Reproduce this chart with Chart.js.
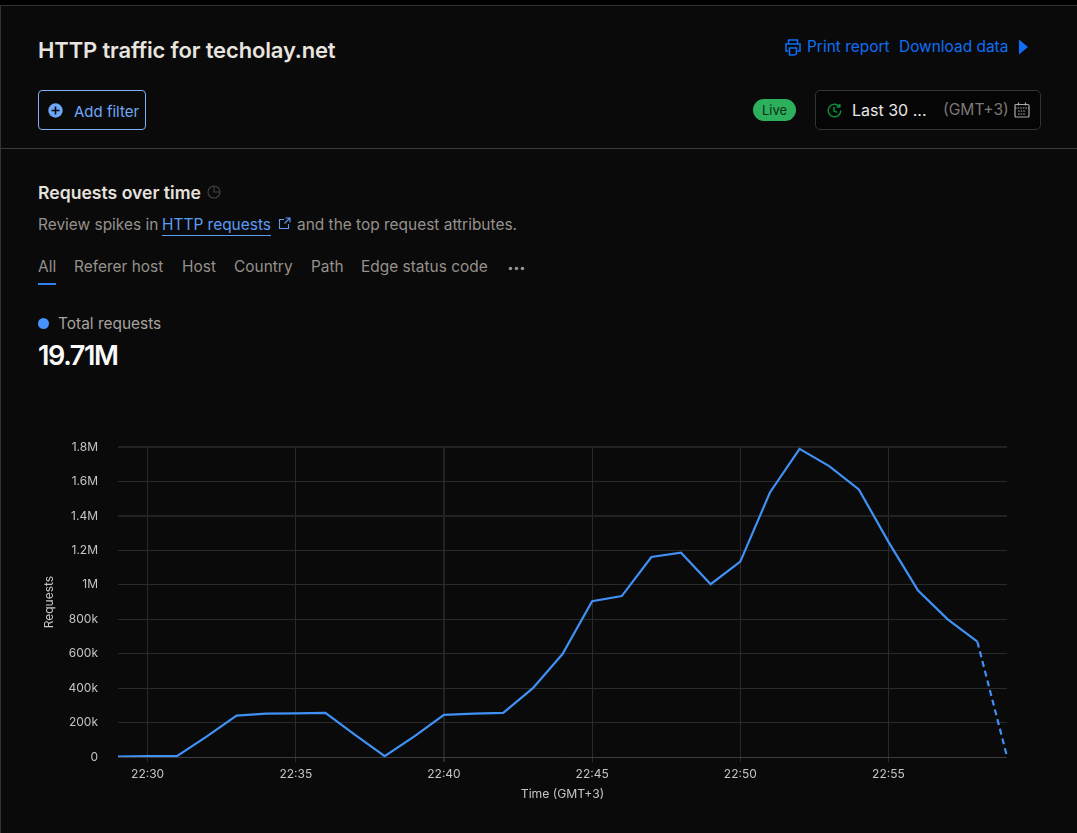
<!DOCTYPE html>
<html>
<head>
<meta charset="utf-8">
<title>HTTP traffic</title>
<script src="https://cdn.jsdelivr.net/npm/chart.js@4"></script>
<style>
  html, body { margin: 0; padding: 0; width: 1077px; height: 833px; overflow: hidden; background: #000; font-family: Inter, "Noto Sans", sans-serif; }
  #page { position: absolute; left: 0; top: 5px; width: 1077px; height: 828px; background: #0a0a0a; border-top: 1px solid #333; border-left: 1px solid #333; box-sizing: border-box; }
  .abs { position: absolute; white-space: nowrap; line-height: 1; }
  .t { font-size: 15.45px; color: #96918c; }
  .link { font-size: 15.45px; color: #0f6ef5; }
  svg { position: absolute; }
  #chartBox { position: absolute; left: 30px; top: 420px; width: 980px; height: 390px; }
</style>
</head>
<body>
<div id="page"></div>
<hr style="position:absolute;left:1px;top:148px;width:1076px;margin:0;border:0;border-top:1px solid #3a3a3a">

<div class="abs" style="left:38px;top:39px;font-size:22px;font-weight:600;letter-spacing:-0.15px;color:#e8e4df">HTTP traffic for techolay.net</div>

<svg style="left:785px;top:39px" width="16" height="17" viewBox="0 0 16 17" fill="none" stroke="#0f6ef5" stroke-width="1.5">
  <path d="M3.5 5V1h9v4M3.5 12H1V5h14v7h-2.5"/><path d="M4.5 9h7v5.5l-2 1.5h-5z"/>
</svg>
<div class="abs link" style="left:807px;top:39px">Print report</div>
<div class="abs link" style="left:899px;top:39px">Download data</div>
<svg style="left:1018px;top:39px" width="11" height="16" viewBox="0 0 11 16"><path d="M1 0.5L10 8L1 15.5Z" fill="#0f6ef5"/></svg>

<div style="position:absolute;left:38px;top:90px;width:106px;height:38px;border:1px solid #7db0f5;border-radius:4px"></div>
<svg style="left:48px;top:103px" width="15" height="15" viewBox="0 0 15 15">
  <circle cx="7.5" cy="7.5" r="7.2" fill="#6ea8fa"/><path d="M7.5 3.5v8M3.5 7.5h8" stroke="#0a0a0a" stroke-width="1.6"/>
</svg>
<div class="abs" style="left:74px;top:104px;font-size:15px;color:#6ea8fa">Add filter</div>

<div style="position:absolute;left:753px;top:99px;width:43px;height:22px;border-radius:11px;background:#2cb05c"></div>
<div class="abs" style="left:762px;top:104px;font-size:13px;color:#0c2e18">Live</div>
<div style="position:absolute;left:815px;top:90px;width:224px;height:38px;border:1px solid #333;border-radius:5px;background:#050505"></div>
<svg style="left:826px;top:102px" width="17" height="17" viewBox="0 0 17 17" fill="none" stroke="#0f8a3a" stroke-width="1.5">
  <path d="M14.8 8.5A6.3 6.3 0 1 1 13.2 4.3M8 5v4l3 1.2M13.8 2v3h-3"/>
</svg>
<div class="abs" style="left:852px;top:102px;font-size:16px;color:#e8e8e8">Last 30 ...</div>
<div class="abs" style="left:943px;top:102px;font-size:15.6px;color:#7d7874">(GMT+3)</div>
<svg style="left:1014px;top:102px" width="16" height="16" viewBox="0 0 16 16" fill="none" stroke="#a8a8a8" stroke-width="1.2">
  <rect x="1" y="2.5" width="14" height="12.5" rx="1"/><path d="M1 6h14M4.5 0.5v3M11.5 0.5v3M4 9h8M4 12h8" stroke-dasharray="1.6 1"/>
</svg>

<div class="abs" style="left:38px;top:184px;font-size:17.6px;font-weight:600;color:#e6e2de">Requests over time</div>
<svg style="left:207px;top:185px" width="14" height="14" viewBox="0 0 14 14" fill="none" stroke="#444" stroke-width="1.1">
  <circle cx="7" cy="7" r="6"/><path d="M7 1v6h6"/>
</svg>
<div class="abs t" style="left:38px;top:217px">Review spikes in</div>
<div class="abs" style="left:162px;top:217px;font-size:15.45px;color:#5c9cf5;border-bottom:1px solid #5c9cf5;padding-bottom:3px">HTTP requests</div>
<svg style="left:278px;top:217px" width="13" height="13" viewBox="0 0 13 13" fill="none" stroke="#5c9cf5" stroke-width="1.1">
  <path d="M6 2.5H1.5v9h9V7M7.5 1h4.5v4.5M12 1L6.5 6.5"/>
</svg>
<div class="abs t" style="left:297px;top:217px">and the top request attributes.</div>

<div class="abs t" style="left:38px;top:259px">All</div>
<div style="position:absolute;left:38px;top:283px;width:18px;height:2px;background:#2f80ed"></div>
<div class="abs t" style="left:74px;top:259px">Referer host</div>
<div class="abs t" style="left:182px;top:259px">Host</div>
<div class="abs t" style="left:234px;top:259px">Country</div>
<div class="abs t" style="left:311px;top:259px">Path</div>
<div class="abs t" style="left:361px;top:259px">Edge status code</div>
<svg style="left:508px;top:266px" width="17" height="5" viewBox="0 0 17 5" fill="#96918c">
  <circle cx="2.5" cy="2.5" r="1.8"/><circle cx="8.5" cy="2.5" r="1.8"/><circle cx="14.5" cy="2.5" r="1.8"/>
</svg>

<div style="position:absolute;left:38px;top:318px;width:11px;height:11px;border-radius:50%;background:#4693ff"></div>
<div class="abs t" style="left:58px;top:316px;color:#a8a39e">Total requests</div>
<div class="abs" style="left:38px;top:342px;font-size:27px;font-weight:600;letter-spacing:-1.4px;color:#fafafa">19.71M</div>

<div id="chartBox"><canvas id="trafficChart"></canvas></div>

<script>
// --- Chart data ---
const minutes = ['22:29','22:30','22:31','22:32','22:33','22:34','22:35','22:36','22:37','22:38',
  '22:39','22:40','22:41','22:42','22:43','22:44','22:45','22:46','22:47','22:48',
  '22:49','22:50','22:51','22:52','22:53','22:54','22:55','22:56','22:57','22:58','22:59'];
const requests = [2000, 5000, 7000, 120000, 240000, 252000, 253000, 256000, 128000, 5000,
  120000, 245000, 252000, 256000, 400000, 598000, 905000, 935000, 1162000, 1187000,
  1004000, 1135000, 1537000, 1790000, 1690000, 1555000, 1250000, 967000, 800000, 670000, 3000];
const xTickLabels = ['22:30','22:35','22:40','22:45','22:50','22:55'];
const yTickValues = [0, 200000, 400000, 600000, 800000, 1000000, 1200000, 1400000, 1600000, 1800000];
const yTickLabels = ['0','200k','400k','600k','800k','1M','1.2M','1.4M','1.6M','1.8M'];

const lastIndex = requests.length - 1;
const gridColor = '#2a2a2a';
const wideGridColor = '#222222';
const tickColor = '#c4c4c4';
const tickFont = { family: 'Inter', size: 12 };

const isWideX = c => c.tick && minutes[c.tick.value] === '22:40';
const isWideY = c => c.tick && (c.tick.value === 1400000 || c.tick.value === 1800000);

const ctx = document.getElementById('trafficChart').getContext('2d');

new Chart(ctx, {
  type: 'line',
  data: {
    labels: minutes,
    datasets: [{
      label: 'Total requests',
      data: requests,
      borderColor: '#3f91f5',
      borderWidth: 2.2,
      pointRadius: 0,
      tension: 0,
      fill: false,
      // the newest minute is still incomplete, so its segment is dashed
      segment: {
        borderDash: c => c.p1DataIndex === lastIndex ? [6, 4] : undefined
      }
    }]
  },
  options: {
    responsive: true,
    maintainAspectRatio: false,
    animation: false,
    layout: { padding: { top: 8, right: 3 } },
    plugins: { legend: { display: false }, tooltip: { enabled: false } },
    scales: {
      x: {
        type: 'category',
        offset: false,
        afterFit: s => { s.height = 53; },
        afterBuildTicks: s => { s.ticks = s.ticks.filter(t => xTickLabels.includes(minutes[t.value])); },
        border: { display: false },
        grid: {
          color: c => isWideX(c) ? wideGridColor : gridColor,
          lineWidth: c => isWideX(c) ? 2 : 1,
          tickColor: gridColor,
          tickLength: 5
        },
        ticks: { autoSkip: false, maxRotation: 0, color: tickColor, font: tickFont, padding: 5 },
        title: { display: true, text: 'Time (GMT+3)', color: tickColor, font: { family: 'Inter', size: 12.2 }, padding: { top: 4, bottom: 8 } }
      },
      y: {
        min: 0,
        max: 1800000,
        afterFit: s => { s.width = 88; },
        afterBuildTicks: s => { s.ticks = yTickValues.map(v => ({ value: v })); },
        border: { display: false },
        grid: {
          color: c => c.tick && c.tick.value === 0 ? '#3c3c3c' : (isWideY(c) ? wideGridColor : gridColor),
          lineWidth: c => isWideY(c) ? 2 : 1,
          drawTicks: false
        },
        ticks: {
          color: tickColor,
          font: tickFont,
          padding: 20,
          callback: v => yTickLabels[yTickValues.indexOf(v)]
        },
        title: { display: true, text: 'Requests', color: tickColor, font: tickFont, padding: { top: 12, bottom: 0 } }
      }
    }
  }
});
</script>
</body>
</html>
